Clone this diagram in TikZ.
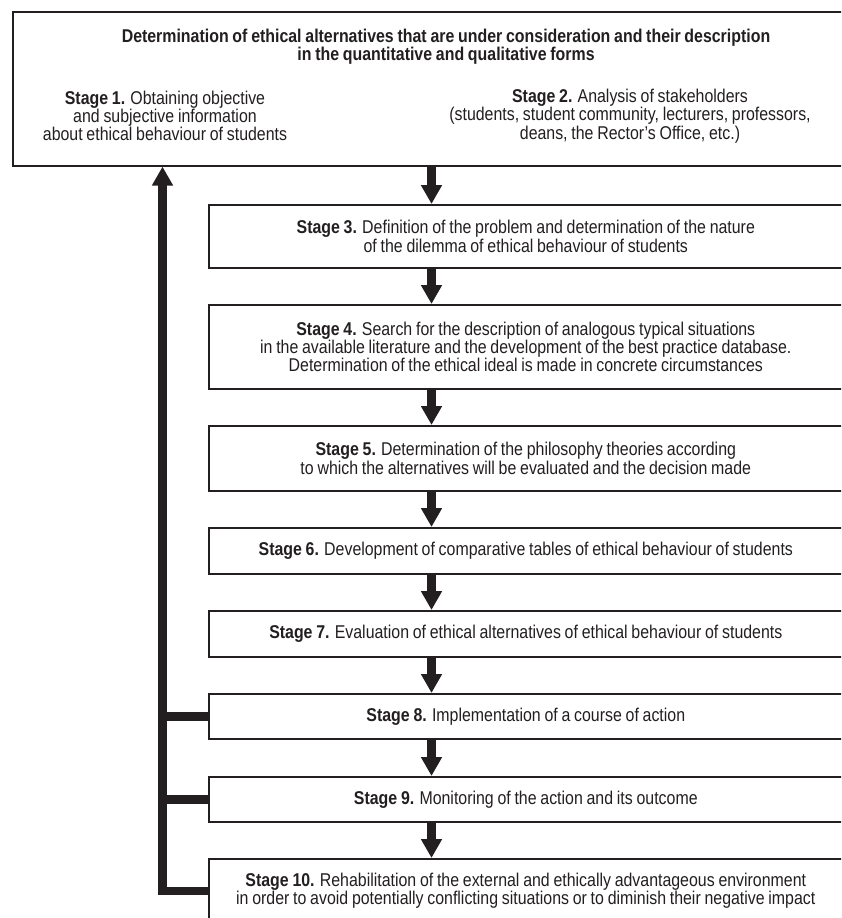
\documentclass[tikz,border=0pt]{standalone}
\usepackage{fontspec}
\setmainfont{Liberation Sans}[FakeStretch=0.86, WordSpace=0.85]
\usetikzlibrary{arrows.meta}
\definecolor{ink}{HTML}{231F20}
\begin{document}
\begin{tikzpicture}[x=1pt,y=-1pt,
  box/.style={draw=ink, line width=1.6pt, fill=white, inner sep=0pt, anchor=north west,
    align=center, text=ink, font=\fontsize{18.5}{15.5}\selectfont},
  txt/.style={inner sep=0pt, align=center, text=ink, font=\fontsize{18.5}{15.5}\selectfont},
  flow/.style={draw=ink, line width=8.5pt, line join=miter, -{Triangle[width=20pt,length=19pt]}},
  fb/.style={draw=ink, line width=8.5pt}]
\clip (0,0) rectangle (841,918);
\fill[white] (0,0) rectangle (841,918);
% top box
\node[box, minimum width=868pt, minimum height=154pt] (top) at (12,11) {};
\node[txt, font=\fontsize{18.5}{16.5}\selectfont\bfseries] (title) at (446,47)
  {Determination of ethical alternatives that are under consideration and their description\\
   in the quantitative and qualitative forms};
\node[txt] (st1) at (165,116)
  {\textbf{Stage 1.} Obtaining objective\\and subjective information\\about ethical behaviour of students};
\node[txt] (st2) at (630,116)
  {\textbf{Stage 2.} Analysis of stakeholders\\(students, student community, lecturers, professors,\\deans, the Rector's Office, etc.)};
% stage boxes
\node[box, minimum width=634pt, minimum height=63pt] (s3) at (208,204)
  {\textbf{Stage 3.} Definition of the problem and determination of the nature\\of the dilemma of ethical behaviour of students};
\node[box, minimum width=634pt, minimum height=84pt] (s4) at (208,304)
  {\textbf{Stage 4.} Search for the description of analogous typical situations\\in the available literature and the development of the best practice database.\\Determination of the ethical ideal is made in concrete circumstances};
\node[box, minimum width=634pt, minimum height=65pt] (s5) at (208,425)
  {\textbf{Stage 5.} Determination of the philosophy theories according\\to which the alternatives will be evaluated and the decision made};
\node[box, minimum width=634pt, minimum height=46pt] (s6) at (208,527)
  {\textbf{Stage 6.} Development of comparative tables of ethical behaviour of students};
\node[box, minimum width=634pt, minimum height=46pt] (s7) at (208,610)
  {\textbf{Stage 7.} Evaluation of ethical alternatives of ethical behaviour of students};
\node[box, minimum width=634pt, minimum height=45pt] (s8) at (208,693)
  {\textbf{Stage 8.} Implementation of a course of action};
\node[box, minimum width=634pt, minimum height=45pt] (s9) at (208,776)
  {\textbf{Stage 9.} Monitoring of the action and its outcome};
\node[box, minimum width=634pt, minimum height=64pt] (s10) at (208,858)
  {\textbf{Stage 10.} Rehabilitation of the external and ethically advantageous environment\\in order to avoid potentially conflicting situations or to diminish their negative impact};
% connectors
\coordinate (A) at (431.5,0);
\coordinate (L) at (162.5,0);
\draw[flow] (top.south -| A) -- (s3.north -| A);
\draw[flow] (s3.south -| A) -- (s4.north -| A);
\draw[flow] (s4.south -| A) -- (s5.north -| A);
\draw[flow] (s5.south -| A) -- (s6.north -| A);
\draw[flow] (s6.south -| A) -- (s7.north -| A);
\draw[flow] (s7.south -| A) -- (s8.north -| A);
\draw[flow] (s8.south -| A) -- (s9.north -| A);
\draw[flow] (s9.south -| A) -- (s10.north -| A);
\draw[flow] (s10.west) -| (top.south -| L);
\draw[fb] (s8.west) -- (s8.west -| L);
\draw[fb] (s9.west) -- (s9.west -| L);
\end{tikzpicture}
\end{document}
